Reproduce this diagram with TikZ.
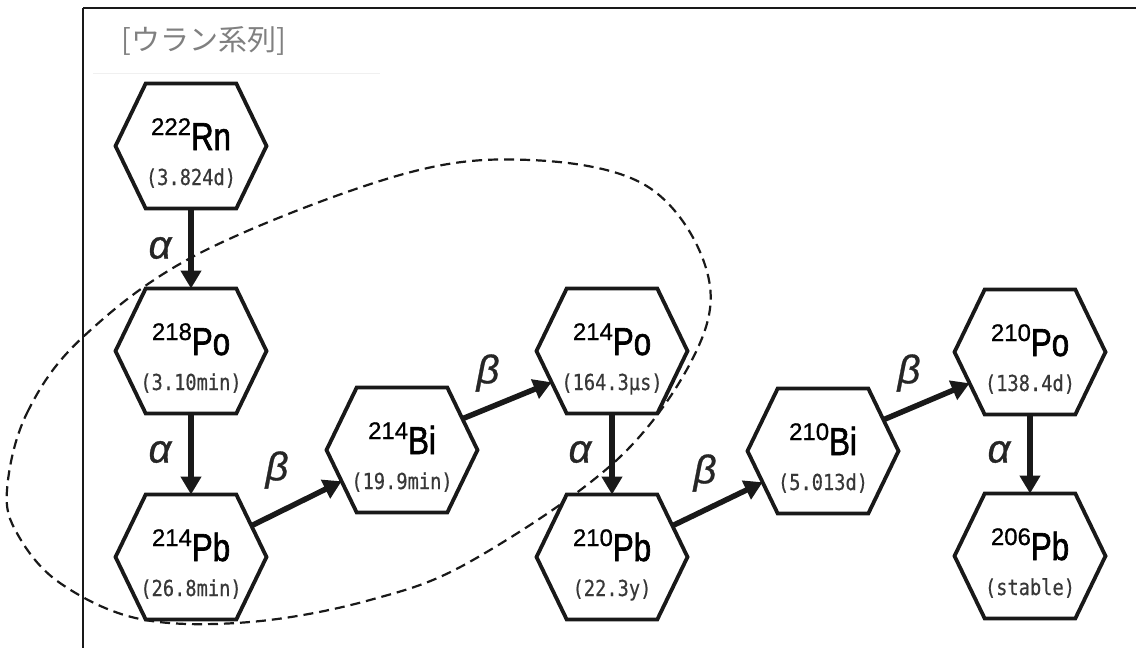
\documentclass[tikz,border=0pt]{standalone}
\usepackage{fontspec}
\usetikzlibrary{arrows.meta}

\newfontfamily\elfont[FakeStretch=0.8,FakeBold=1.6]{Liberation Sans}
\newfontfamily\supfont[FakeBold=0.8]{Liberation Sans}
\newfontfamily\lifefont[FakeStretch=0.85,FakeBold=0.4]{DejaVu Sans Mono}
\newfontfamily\greekfont[FakeBold=0.8]{Liberation Sans}
\newfontfamily\jpfont{Noto Sans CJK JP}

% A hexagon with horizontal top and bottom edges, sized like a rectangle node.
% Extra anchors: midpoints of the upper-right and lower-left slanted edges.
\makeatletter
\pgfdeclareshape{hexcell}{
  \inheritsavedanchors[from=rectangle]
  \inheritanchorborder[from=rectangle]
  \inheritanchor[from=rectangle]{center}
  \inheritanchor[from=rectangle]{north}
  \inheritanchor[from=rectangle]{south}
  \inheritanchor[from=rectangle]{east}
  \inheritanchor[from=rectangle]{west}
  \anchor{upper right}{%
    \southwest \pgf@xb=\pgf@x \pgf@yb=\pgf@y
    \northeast
    \pgf@x=0.9\pgf@x \advance\pgf@x by 0.1\pgf@xb
    \pgf@y=0.75\pgf@y \advance\pgf@y by 0.25\pgf@yb
  }
  \anchor{lower left}{%
    \northeast \pgf@xa=\pgf@x \pgf@ya=\pgf@y
    \southwest
    \pgf@x=0.9\pgf@x \advance\pgf@x by 0.1\pgf@xa
    \pgf@y=0.75\pgf@y \advance\pgf@y by 0.25\pgf@ya
  }
  \backgroundpath{%
    \southwest \pgf@xa=\pgf@x \pgf@ya=\pgf@y
    \northeast \pgf@xb=\pgf@x \pgf@yb=\pgf@y
    \edef\hx@l{\the\pgf@xa}\edef\hx@r{\the\pgf@xb}%
    \edef\hx@b{\the\pgf@ya}\edef\hx@t{\the\pgf@yb}%
    \pgf@xc=0.8\pgf@xa \advance\pgf@xc by 0.2\pgf@xb
    \edef\hx@il{\the\pgf@xc}%
    \pgf@xc=0.8\pgf@xb \advance\pgf@xc by 0.2\pgf@xa
    \edef\hx@ir{\the\pgf@xc}%
    \pgf@yc=0.5\pgf@ya \advance\pgf@yc by 0.5\pgf@yb
    \edef\hx@m{\the\pgf@yc}%
    \pgfpathmoveto{\pgfqpoint{\hx@il}{\hx@t}}%
    \pgfpathlineto{\pgfqpoint{\hx@ir}{\hx@t}}%
    \pgfpathlineto{\pgfqpoint{\hx@r}{\hx@m}}%
    \pgfpathlineto{\pgfqpoint{\hx@ir}{\hx@b}}%
    \pgfpathlineto{\pgfqpoint{\hx@il}{\hx@b}}%
    \pgfpathlineto{\pgfqpoint{\hx@l}{\hx@m}}%
    \pgfpathclose
  }
}
\makeatother

% nuclide label: mass number, element, half-life
\newcommand\nuc[3]{\vbox{\offinterlineskip\halign{\hfil##\hfil\cr
  \vrule height51pt depth5pt width0pt%
  {\supfont\fontsize{24}{24}\selectfont\raisebox{15pt}{#1}}%
  {\elfont\fontsize{39}{39}\selectfont #2}\cr
  \vrule height30pt depth8pt width0pt%
  {\lifefont\fontsize{22}{22}\selectfont\color{black!78}(#3)}\cr}}}

\tikzset{
  hexnode/.style={shape=hexcell, draw=black!90, fill=white, line width=3.8pt,
    minimum width=151pt, minimum height=125pt, inner sep=0pt, outer sep=0pt},
  decay/.style={draw=black!90, line width=5.5pt,
    -{Triangle[width=20pt,length=18pt]}},
  modelabel/.style={font={\greekfont\itshape\fontsize{40}{40}\selectfont},
    text=black!85, inner sep=0pt},
  seriesbox/.style={dashed, dash pattern=on 10pt off 6pt, line width=2.2pt, draw=black!90},
  titletext/.style={font={\jpfont\fontsize{29}{29}\selectfont}, text=black!50, inner sep=0pt}
}

\begin{document}
\begin{tikzpicture}[x=1pt,y=-1pt]
\useasboundingbox (0,0) rectangle (1136,648);

% page frame and heading
\draw[line width=2pt, black!90] (83,8) -- (1136,8);
\draw[line width=1.5pt, black!90] (83,8) -- (83,648);
\draw[line width=1pt, black!6] (93,73) -- (380,73);
\node[titletext] (title) at (204,41) {[ウラン系列]};

% grouping of the short-lived daughters
\draw[seriesbox] plot[smooth cycle, tension=0.6] coordinates {
  (7,490) (27,413) (83,337) (200,253) (400,175) (530,160) (645,185)
  (704,262) (700,343) (620,457) (473,560) (370,600) (250,622) (140,619)
  (60,583) (18,535)};

% nuclides
\node[hexnode] (rn222) at (191,146) {\nuc{222}{Rn}{3.824d}};
\node[hexnode] (po218) at (191,351) {\nuc{218}{Po}{3.10min}};
\node[hexnode] (pb214) at (191,557) {\nuc{214}{Pb}{26.8min}};
\node[hexnode] (bi214) at (402,450) {\nuc{214}{Bi}{19.9min}};
\node[hexnode] (po214) at (612,351) {\nuc{214}{Po}{164.3μs}};
\node[hexnode] (pb210) at (612,557) {\nuc{210}{Pb}{22.3y}};
\node[hexnode] (bi210) at (823,451) {\nuc{210}{Bi}{5.013d}};
\node[hexnode] (po210) at (1030,352) {\nuc{210}{Po}{138.4d}};
\node[hexnode] (pb206) at (1030,556) {\nuc{206}{Pb}{stable}};

% decays
\draw[decay] (rn222.south) -- (po218.north);
\draw[decay] (po218.south) -- (pb214.north);
\draw[decay] (pb214.upper right) -- (bi214.lower left);
\draw[decay] (bi214.upper right) -- (po214.lower left);
\draw[decay] (po214.south) -- (pb210.north);
\draw[decay] (pb210.upper right) -- (bi210.lower left);
\draw[decay] (bi210.upper right) -- (po210.lower left);
\draw[decay] (po210.south) -- (pb206.north);

% decay modes
\node[modelabel] (a1) at (160,248) {α};
\node[modelabel] (a2) at (160,452) {α};
\node[modelabel] (b1) at (277,470) {β};
\node[modelabel] (b2) at (488,373) {β};
\node[modelabel] (a3) at (580,452) {α};
\node[modelabel] (b3) at (705,473) {β};
\node[modelabel] (b4) at (909,373) {β};
\node[modelabel] (a4) at (999,452) {α};
\end{tikzpicture}
\end{document}
